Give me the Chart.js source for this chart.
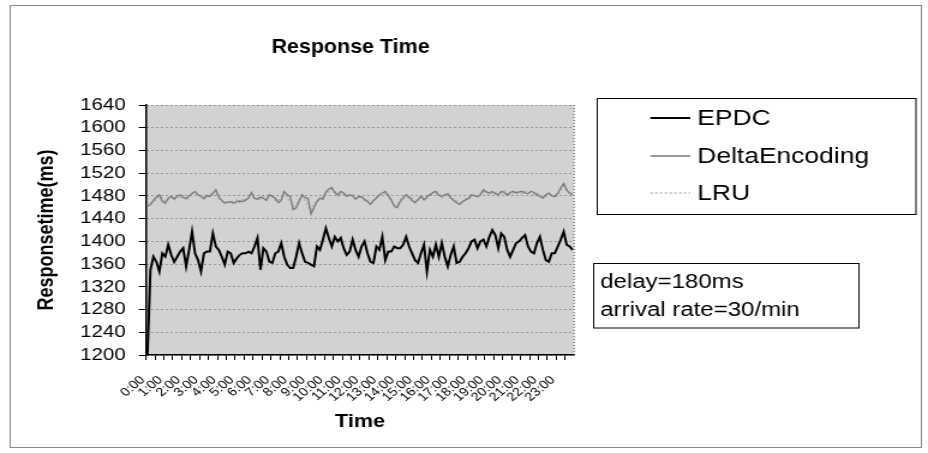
<!DOCTYPE html>
<html>
<head>
<meta charset="utf-8">
<script src="https://cdn.jsdelivr.net/npm/chart.js@4.4.0/dist/chart.umd.min.js"></script>
<style>
  html, body { margin: 0; padding: 0; background: #fff; overflow: hidden; }
  #wrap { width: 928px; height: 453px; overflow: hidden; }
  #chart { transform-origin: 0 0; }
</style>
</head>
<body>
<div id="wrap"><canvas id="chart" width="773" height="453"></canvas></div>
<script>
// the scanned original is stretched sideways, so the canvas is drawn narrow and widened by CSS
const STRETCH = 928 / 773;
document.getElementById('chart').style.transform = 'scaleX(' + STRETCH + ')';

const FONT = '"Liberation Sans", Arial, sans-serif';

// x categories: one sample every 10 minutes, labels only on the hour
const hourLabels = ['0:00', '1:00', '2:00', '3:00', '4:00', '5:00', '6:00', '7:00',
  '8:00', '9:00', '10:00', '11:00', '12:00', '13:00', '14:00', '15:00', '16:00',
  '17:00', '18:00', '19:00', '20:00', '21:00', '22:00', '23:00'];
const minuteSlots = ['00', '10', '20', '30', '40', '50'];
const times = [];
hourLabels.forEach(h => minuteSlots.forEach(m => times.push(h.replace(':00', ':' + m))));

// y axis range
const yMin = 1200, yMax = 1640, yStep = 40;

// response time (ms)
const epdc = [
  1200, 1350, 1373, 1364, 1347, 1379, 1373, 1394, 1376, 1364,
  1373, 1382, 1388, 1356, 1385, 1417, 1379, 1367, 1347, 1379,
  1382, 1382, 1414, 1391, 1385, 1373, 1359, 1382, 1379, 1362,
  1370, 1376, 1379, 1379, 1382, 1379, 1391, 1406, 1350, 1388,
  1382, 1364, 1362, 1379, 1382, 1397, 1373, 1359, 1353, 1353,
  1373, 1397, 1379, 1364, 1362, 1359, 1356, 1391, 1385, 1403,
  1423, 1406, 1391, 1408, 1400, 1406, 1388, 1376, 1382, 1403,
  1385, 1373, 1391, 1400, 1379, 1364, 1362, 1391, 1385, 1408,
  1367, 1382, 1382, 1391, 1388, 1388, 1394, 1408, 1391, 1379,
  1367, 1362, 1379, 1394, 1347, 1385, 1373, 1394,
  1373, 1397, 1373, 1356, 1376, 1391, 1362, 1364, 1373, 1379,
  1388, 1400, 1403, 1388, 1400, 1403, 1391, 1408, 1420, 1411,
  1388, 1414, 1408, 1385, 1373, 1385, 1397, 1400, 1406, 1411,
  1391, 1382, 1379, 1397, 1408, 1385, 1367, 1364, 1379, 1379,
  1391, 1403, 1417, 1394, 1391, 1385
];
const deltaEncoding = [
  1462, 1465, 1472, 1478, 1482, 1470, 1467, 1476, 1479, 1474,
  1480, 1482, 1477, 1476, 1480, 1484, 1488, 1482, 1479, 1475,
  1481, 1479, 1484, 1491, 1478, 1472, 1467, 1469, 1470, 1467,
  1470, 1471, 1470, 1473, 1476, 1486, 1476, 1474, 1478, 1476,
  1472, 1482, 1479, 1476, 1468, 1472, 1488, 1482, 1479, 1456,
  1459, 1470, 1482, 1477, 1476, 1448, 1459, 1470, 1476, 1474,
  1487, 1492, 1495, 1486, 1482, 1488, 1485, 1479, 1482, 1480,
  1474, 1479, 1478, 1474, 1470, 1465, 1472, 1476, 1482, 1485,
  1488, 1480, 1473, 1462, 1459, 1470, 1476, 1482, 1478, 1472,
  1468, 1474, 1479, 1473, 1478, 1482, 1486, 1488,
  1481, 1479, 1482, 1484, 1477, 1472,
  1468, 1465, 1470, 1473, 1476, 1482,
  1480, 1479, 1482, 1491, 1487, 1485,
  1488, 1484, 1482, 1488, 1486, 1482,
  1486, 1488, 1485, 1487, 1488, 1485,
  1484, 1488, 1486, 1482, 1479, 1476,
  1482, 1485, 1480, 1479, 1485, 1494,
  1502, 1490, 1485, 1482
];
const lru = [
  1466, 1470, 1468, 1474, 1480, 1476, 1471, 1473, 1481, 1477,
  1476, 1479, 1481, 1472, 1477, 1486, 1483, 1479, 1482, 1478,
  1477, 1483, 1488, 1486, 1474, 1470, 1471, 1466, 1472, 1470,
  1473, 1468, 1474, 1471, 1480, 1483, 1473, 1477, 1474, 1479,
  1476, 1479, 1483, 1472, 1471, 1478, 1485, 1478, 1470, 1462,
  1465, 1474, 1479, 1473, 1462, 1455, 1466, 1473, 1472, 1478,
  1483, 1488, 1491, 1489, 1479, 1485, 1482, 1483, 1478, 1484,
  1477, 1475, 1481, 1471, 1473, 1468, 1469, 1479, 1480, 1481,
  1485, 1483, 1470, 1466, 1463, 1473, 1479, 1479, 1475, 1476,
  1471, 1470, 1482, 1476, 1475, 1485, 1483, 1485,
  1484, 1476, 1479, 1481, 1474, 1475,
  1471, 1468, 1467, 1476, 1473, 1479,
  1483, 1476, 1485, 1488, 1484, 1482,
  1485, 1487, 1479, 1485, 1489, 1479,
  1483, 1485, 1488, 1484, 1485, 1488,
  1487, 1485, 1482, 1485, 1482, 1479,
  1479, 1482, 1483, 1476, 1482, 1490,
  1497, 1493, 1482, 1485
];

const noteLines = ['delay=180ms', 'arrival rate=30/min'];

// background, frame, title, legend box and the note box
const decorations = {
  id: 'decorations',
  beforeDraw(chart) {
    const { ctx, chartArea: a } = chart;
    ctx.save();
    ctx.fillStyle = '#fff';
    ctx.fillRect(0, 0, chart.width, chart.height);
    ctx.fillStyle = '#d2d2d2';
    ctx.fillRect(a.left, a.top, a.right - a.left, a.bottom - a.top);
    ctx.restore();
  },
  afterDraw(chart) {
    const { ctx, chartArea: a } = chart;
    ctx.save();

    // dotted right edge of the plot
    ctx.strokeStyle = '#555';
    ctx.lineWidth = 1;
    ctx.setLineDash([1, 2]);
    ctx.beginPath();
    ctx.moveTo(a.right, a.top);
    ctx.lineTo(a.right, a.bottom);
    ctx.stroke();
    ctx.setLineDash([]);

    // outer frame
    ctx.strokeStyle = '#8a8a8a';
    ctx.strokeRect(8.5, 5.5, 759, 442);

    // title (a bit taller than the sideways stretch would give)
    ctx.save();
    ctx.translate(292, 47);
    ctx.scale(0.85, 1);
    ctx.fillStyle = '#000';
    ctx.font = 'bold 21px ' + FONT;
    ctx.textAlign = 'center';
    ctx.textBaseline = 'middle';
    ctx.fillText('Response Time', 0, 0);
    ctx.restore();

    // legend
    ctx.fillStyle = '#fff';
    ctx.fillRect(497.5, 98.5, 265.5, 116);
    ctx.strokeStyle = '#000';
    ctx.lineWidth = 1;
    ctx.strokeRect(497.5, 98.5, 265.5, 116);
    const rows = [118, 156, 193];
    ctx.font = '22px ' + FONT;
    ctx.textAlign = 'left';
    ctx.textBaseline = 'middle';
    chart.data.datasets.forEach((ds, i) => {
      ctx.strokeStyle = ds.borderColor;
      ctx.lineWidth = ds.borderWidth;
      ctx.setLineDash(ds.borderDash || []);
      ctx.beginPath();
      ctx.moveTo(541.7, rows[i]);
      ctx.lineTo(575, rows[i]);
      ctx.stroke();
      ctx.setLineDash([]);
      ctx.fillStyle = '#000';
      ctx.fillText(ds.label, 580.8, rows[i] + 1);
    });

    // note box
    ctx.fillStyle = '#fff';
    ctx.fillRect(494.5, 263.5, 221, 64.5);
    ctx.strokeStyle = '#000';
    ctx.lineWidth = 1;
    ctx.strokeRect(494.5, 263.5, 221, 64.5);
    ctx.fillStyle = '#000';
    ctx.font = '20px ' + FONT;
    ctx.fillText(noteLines[0], 500, 282);
    ctx.fillText(noteLines[1], 500, 310);

    ctx.restore();
  }
};

new Chart(document.getElementById('chart'), {
  type: 'line',
  data: {
    labels: times,
    datasets: [
      { label: 'EPDC', data: epdc, borderColor: '#000', borderWidth: 2 },
      { label: 'DeltaEncoding', data: deltaEncoding, borderColor: '#7a7a7a', borderWidth: 1.3 },
      { label: 'LRU', data: lru, borderColor: '#a9a9a9', borderWidth: 1.2, borderDash: [2, 2] }
    ]
  },
  options: {
    responsive: false,
    animation: false,
    devicePixelRatio: 1,
    layout: { padding: { left: 28.4, right: 294.8, top: 105, bottom: 20.2 } },
    elements: { point: { radius: 0 }, line: { tension: 0 } },
    plugins: { legend: { display: false }, tooltip: { enabled: false } },
    scales: {
      x: {
        offset: true,
        ticks: {
          autoSkip: false, maxRotation: 45, minRotation: 45, padding: 13, labelOffset: -4,
          color: '#000', font: { family: FONT, size: 12 },
          callback: (v, i) => i % 6 === 0 ? hourLabels[i / 6] : ''
        },
        grid: {
          drawOnChartArea: false, offset: true, tickLength: 5,
          tickColor: c => c.index % 3 === 0 ? '#000' : 'rgba(0,0,0,0)'
        },
        border: { color: '#000', width: 1.5 },
        title: { display: true, text: 'Time', color: '#000', padding: 0,
          font: { family: FONT, size: 18, weight: 'bold' } },
        afterFit(scale) { scale.height = 77.8; }
      },
      y: {
        min: yMin, max: yMax,
        ticks: { stepSize: yStep, autoSkip: false, padding: 11, color: '#000',
          font: { family: FONT, size: 17 }, callback: v => String(v) },
        grid: { color: '#5a5a5a', lineWidth: 1, tickLength: 6, tickColor: '#000', tickBorderDash: [] },
        border: { color: '#000', width: 1.5, dash: [1, 3] },
        title: { display: true, text: 'Responsetime(ms)', color: '#000', padding: 0,
          font: { family: FONT, size: 18, weight: 'bold' } },
        afterFit(scale) { scale.width = 93.2; }
      }
    }
  },
  plugins: [decorations]
});
</script>
</body>
</html>
